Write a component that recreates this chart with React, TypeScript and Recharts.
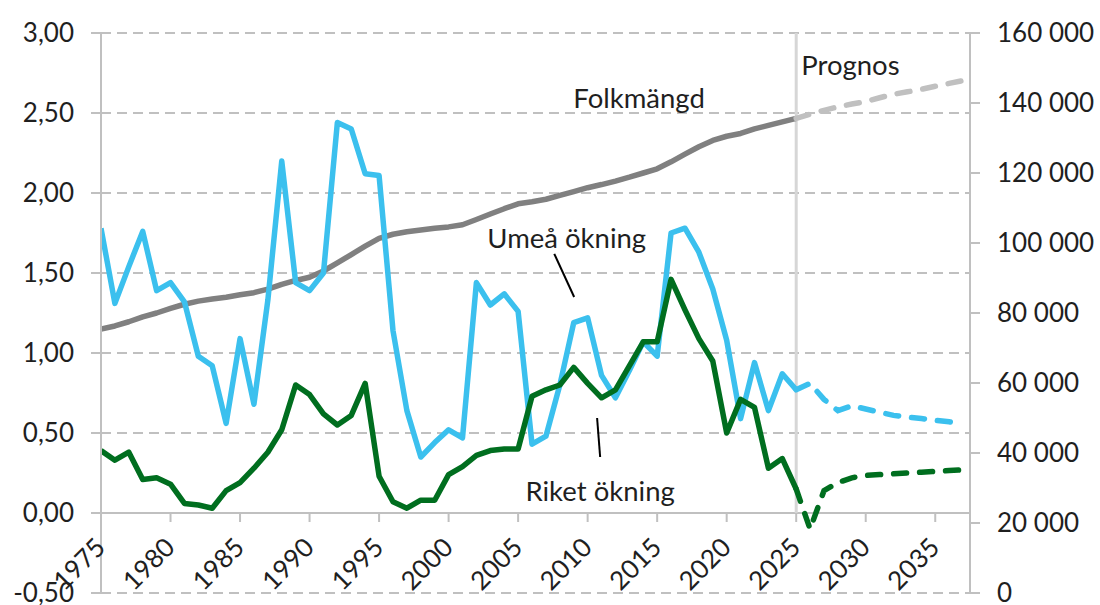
import React from 'react';
import {
  LineChart,
  Line,
  XAxis,
  YAxis,
  CartesianGrid,
  ReferenceLine,
  ReferenceDot,
} from 'recharts';

// ---------- data ----------
const years = [
  1975, 1976, 1977, 1978, 1979, 1980, 1981, 1982, 1983, 1984,
  1985, 1986, 1987, 1988, 1989, 1990, 1991, 1992, 1993, 1994,
  1995, 1996, 1997, 1998, 1999, 2000, 2001, 2002, 2003, 2004,
  2005, 2006, 2007, 2008, 2009, 2010, 2011, 2012, 2013, 2014,
  2015, 2016, 2017, 2018, 2019, 2020, 2021, 2022, 2023, 2024,
  2025, 2026, 2027, 2028, 2029, 2030, 2031, 2032, 2033, 2034,
  2035, 2036, 2037,
];

// Historical 1975–2025
const umeaOkning = [
  1.78, 1.31, 1.54, 1.76, 1.39, 1.44, 1.32, 0.98, 0.92, 0.56,
  1.09, 0.68, 1.33, 2.2, 1.44, 1.39, 1.5, 2.44, 2.4, 2.12,
  2.11, 1.14, 0.64, 0.35, 0.44, 0.52, 0.47, 1.44, 1.3, 1.37,
  1.26, 0.43, 0.48, 0.8, 1.19, 1.22, 0.86, 0.72, 0.89, 1.07,
  0.98, 1.75, 1.78, 1.63, 1.4, 1.08, 0.59, 0.94, 0.64, 0.87,
  0.77,
];
const riketOkning = [
  0.39, 0.33, 0.38, 0.21, 0.22, 0.18, 0.06, 0.05, 0.03, 0.14,
  0.19, 0.28, 0.38, 0.52, 0.8, 0.74, 0.62, 0.55, 0.61, 0.81,
  0.23, 0.07, 0.03, 0.08, 0.08, 0.24, 0.29, 0.36, 0.39, 0.4,
  0.4, 0.73, 0.77, 0.8, 0.91, 0.81, 0.72, 0.77, 0.92, 1.07,
  1.07, 1.46, 1.27, 1.09, 0.95, 0.5, 0.71, 0.66, 0.28, 0.34,
  0.15,
];
const folkmangd = [
  75400, 76300, 77500, 78900, 80000, 81300, 82500, 83400, 84000, 84500,
  85200, 85800, 86800, 88200, 89300, 90200, 92000, 94300, 96700, 99100,
  101300, 102500, 103200, 103700, 104200, 104600, 105200, 106700, 108300, 109800,
  111200, 111800, 112500, 113600, 114700, 115800, 116700, 117700, 118800, 120000,
  121200, 123200, 125400, 127500, 129300, 130500, 131300, 132600, 133600, 134600,
  135600,
];

// Prognos 2025–2037
const progStartYear = 2025;
const umeaPrognos = [0.77, 0.81, 0.71, 0.64, 0.67, 0.65, 0.63, 0.61, 0.6, 0.59, 0.58, 0.57, 0.555];
const riketPrognos = [0.15, -0.1, 0.14, 0.19, 0.22, 0.235, 0.24, 0.245, 0.25, 0.255, 0.26, 0.265, 0.27];
const folkPrognos = [135600, 136800, 137900, 138900, 139700, 140400, 141500, 142500, 143200, 143900, 144800, 145600, 146400];

const leftTicks = [-0.5, 0, 0.5, 1, 1.5, 2, 2.5, 3];
const rightTicks = [0, 20000, 40000, 60000, 80000, 100000, 120000, 140000, 160000];
const xTicks = [1975, 1980, 1985, 1990, 1995, 2000, 2005, 2010, 2015, 2020, 2025, 2030, 2035];

const data = years.map((year, i) => {
  const p = year - progStartYear;
  return {
    year,
    umea: i < umeaOkning.length ? umeaOkning[i] : null,
    riket: i < riketOkning.length ? riketOkning[i] : null,
    folk: i < folkmangd.length ? folkmangd[i] : null,
    umeaProg: p >= 0 ? umeaPrognos[p] : null,
    riketProg: p >= 0 ? riketPrognos[p] : null,
    folkProg: p >= 0 ? folkPrognos[p] : null,
  };
});

// ---------- layout / style ----------
const W = 1100;
const H = 605;
const TOP = 33;
const BOTTOM = 11;
const XAXIS_H = 1;
const LEFT_W = 101;
const RIGHT_W = 130;
const PLOT_H = H - TOP - BOTTOM - XAXIS_H;
const L_MIN = -0.5;
const L_MAX = 3;
const ZERO_Y = TOP + (PLOT_H * (L_MAX - 0)) / (L_MAX - L_MIN);

const FONT = 'Lato, "Open Sans", sans-serif';
const FS = 26;
const FS_LABEL = 27.5;
const TXT = '#1f1f1f';
const AXIS = '#c0c0c0';
const BLUE = '#3BC0EE';
const GREEN = '#006E1F';
const GRAY = '#808080';
const LIGHTGRAY = '#c0c0c0';
const LW = 5.5;

const fmtLeft = (v: number) => v.toFixed(2).replace('.', ',');
const fmtRight = (v: number) =>
  String(v).replace(/\B(?=(\d{3})+(?!\d))/g, ' ');

const XTick = (props: any) => {
  const { x, payload } = props;
  const tx = x + 6;
  const ty = ZERO_Y + 36;
  return (
    <g>
      <line x1={x} x2={x} y1={ZERO_Y} y2={ZERO_Y + 9} stroke={AXIS} strokeWidth={2} />
      <text
        x={tx}
        y={ty}
        transform={`rotate(-45, ${tx}, ${ty})`}
        textAnchor="end"
        fontFamily={FONT}
        fontSize={FS}
        fill={TXT}
      >
        {payload.value}
      </text>
    </g>
  );
};

const labelStyle = { fontFamily: FONT, fontSize: FS_LABEL, fill: TXT };

export default function App() {
  return (
    <div style={{ position: 'absolute', left: 0, top: 0, width: W, height: H, background: '#fff' }}>
      <LineChart
        width={W}
        height={H}
        data={data}
        margin={{ top: TOP, right: 0, bottom: BOTTOM, left: 0 }}
      >
        <CartesianGrid
          yAxisId="left"
          vertical={false}
          stroke={LIGHTGRAY}
          strokeWidth={2}
          strokeDasharray="10 6"
        />
        <XAxis
          dataKey="year"
          type="number"
          domain={[1975, 2037.5]}
          ticks={xTicks}
          height={XAXIS_H}
          axisLine={false}
          tickLine={false}
          tick={<XTick />}
          interval={0}
          allowDataOverflow
        />
        <YAxis
          yAxisId="left"
          domain={[L_MIN, L_MAX]}
          ticks={leftTicks}
          width={LEFT_W}
          tickFormatter={fmtLeft}
          axisLine={{ stroke: AXIS, strokeWidth: 2 }}
          tickLine={{ stroke: AXIS, strokeWidth: 2 }}
          tickSize={10}
          tickMargin={17}
          tick={{ fontFamily: FONT, fontSize: FS, fill: TXT }}
          interval={0}
        />
        <YAxis
          yAxisId="right"
          orientation="right"
          domain={[0, 160000]}
          ticks={rightTicks}
          width={RIGHT_W}
          tickFormatter={fmtRight}
          axisLine={{ stroke: AXIS, strokeWidth: 2 }}
          tickLine={{ stroke: AXIS, strokeWidth: 2 }}
          tickSize={10}
          tickMargin={17}
          tick={{ fontFamily: FONT, fontSize: FS, fill: TXT, textAnchor: 'start' }}
          interval={0}
        />
        <ReferenceLine yAxisId="left" y={0} stroke={AXIS} strokeWidth={2} />
        <ReferenceLine
          yAxisId="left"
          segment={[{ x: 2025, y: 0 }, { x: 2025, y: 3 }]}
          stroke="#d6d6d6"
          strokeWidth={3}
          ifOverflow="visible"
        />

        <Line yAxisId="right" dataKey="folk" stroke={GRAY} strokeWidth={LW} dot={false} activeDot={false} strokeLinejoin="round" isAnimationActive={false} />
        <Line yAxisId="right" dataKey="folkProg" stroke={LIGHTGRAY} strokeWidth={LW} strokeDasharray="13 13" strokeLinecap="round" dot={false} activeDot={false} isAnimationActive={false} />
        <Line yAxisId="left" dataKey="umea" stroke={BLUE} strokeWidth={LW} dot={false} activeDot={false} strokeLinejoin="round" isAnimationActive={false} />
        <Line yAxisId="left" dataKey="umeaProg" stroke={BLUE} strokeWidth={LW} strokeDasharray="13 13" strokeLinecap="round" dot={false} activeDot={false} isAnimationActive={false} />
        <Line yAxisId="left" dataKey="riket" stroke={GREEN} strokeWidth={LW} dot={false} activeDot={false} strokeLinejoin="round" isAnimationActive={false} />
        <Line yAxisId="left" dataKey="riketProg" stroke={GREEN} strokeWidth={LW} strokeDasharray="13 13" strokeLinecap="round" dot={false} activeDot={false} isAnimationActive={false} />

        <ReferenceLine
          yAxisId="left"
          segment={[{ x: 2007.6, y: 1.62 }, { x: 2009.03, y: 1.35 }]}
          stroke="#000"
          strokeWidth={2}
          ifOverflow="visible"
        />
        <ReferenceLine
          yAxisId="left"
          segment={[{ x: 2010.68, y: 0.594 }, { x: 2010.9, y: 0.35 }]}
          stroke="#000"
          strokeWidth={2}
          ifOverflow="visible"
        />

        <ReferenceDot yAxisId="left" x={2013.7} y={2.59} r={0} ifOverflow="visible"
          label={{ value: 'Folkmängd', position: 'center', ...labelStyle }} />
        <ReferenceDot yAxisId="left" x={2008.5} y={1.72} r={0} ifOverflow="visible"
          label={{ value: 'Umeå ökning', position: 'center', ...labelStyle }} />
        <ReferenceDot yAxisId="left" x={2010.9} y={0.134} r={0} ifOverflow="visible"
          label={{ value: 'Riket ökning', position: 'center', ...labelStyle }} />
        <ReferenceDot yAxisId="left" x={2028.9} y={2.8} r={0} ifOverflow="visible"
          label={{ value: 'Prognos', position: 'center', ...labelStyle }} />
      </LineChart>
    </div>
  );
}
